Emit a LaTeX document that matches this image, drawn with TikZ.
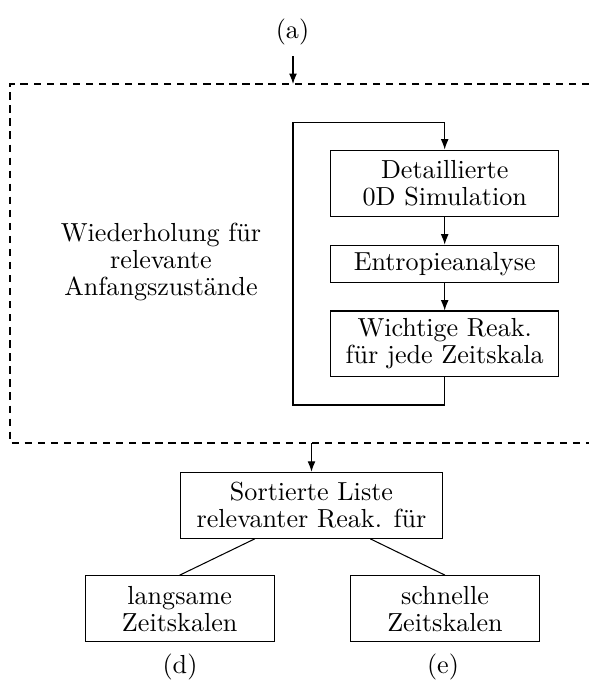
\documentclass[tikz,border=0pt]{standalone}
\usepackage{fontspec}
\usetikzlibrary{arrows.meta,calc}
\newcommand\diagfont{\fontsize{10}{10.3}\selectfont}
\tikzset{
  stepbox/.style={draw, line width=0.4pt, inner sep=0pt, align=center, font=\diagfont},
  wide/.style={minimum width=87.2pt},
  flow/.style={line width=0.4pt, -{Latex[length=4pt,width=3pt]}},
  link/.style={line width=0.4pt},
  frame/.style={line width=0.4pt, dash pattern=on 2.8pt off 2.2pt},
  tag/.style={font=\diagfont, inner sep=0pt, align=center}
}
\begin{document}
\begin{tikzpicture}[x=0.3831pt,y=-0.3831pt]
\useasboundingbox (0,0) rectangle (589,681);

% entry label and arrow into the repeated block
\node[tag] (a) at (292.5,31.5) {(a)};
\coordinate (atail) at (293,56);
\coordinate (ftop) at (293,84);
\draw[flow] (atail) -- (ftop);

% dashed frame of the repeated block (open on the right)
\draw[frame] (589,84) -- (10,84) -- (10,443) -- (589,443);

\node[tag] (rep) at (161,262) {Wiederholung für\\relevante\\Anfangszustände};

% inner chain
\node[stepbox, wide, minimum height=25.5pt] (sim) at (444.7,183.3) {Detaillierte\\0D Simulation};
\node[stepbox, wide, minimum height=14.4pt] (ent) at (444.7,263.9) {Entropieanalyse};
\node[stepbox, wide, minimum height=25.2pt] (wich) at (444.7,343.9) {Wichtige Reak.\\für jede Zeitskala};
\draw[flow] (sim) -- (ent);
\draw[flow] (ent) -- (wich);

% feedback loop
\coordinate (loopbl) at (293,405);
\coordinate (looptl) at (293,122.5);
\draw[flow] (wich.south) |- (loopbl) -- (looptl) -| (sim.north);

% result list
\coordinate (fbot) at (311.5,443);
\node[stepbox, minimum width=100.2pt, minimum height=25.3pt] (sort) at (311.5,505.3) {Sortierte Liste\\relevanter Reak. für};
\draw[flow] (fbot) -- (sort.north);

\node[stepbox, minimum width=72.3pt, minimum height=25.3pt] (slow) at (179.7,608.7) {langsame\\Zeitskalen};
\node[stepbox, minimum width=72.3pt, minimum height=25.3pt] (fast) at (445,608.7) {schnelle\\Zeitskalen};
\draw[link] ($(sort.south west)!0.284!(sort.south east)$) -- (slow.north);
\draw[link] ($(sort.south west)!0.724!(sort.south east)$) -- (fast.north);

\node[tag] (d) at (180,667) {(d)};
\node[tag] (e) at (443,667) {(e)};
\end{tikzpicture}
\end{document}
